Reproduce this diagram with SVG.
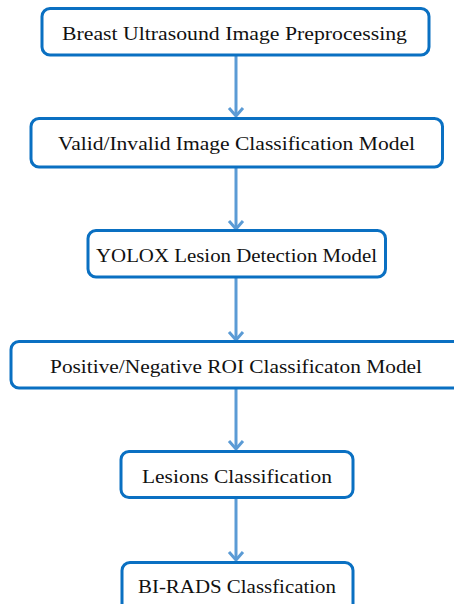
<svg xmlns="http://www.w3.org/2000/svg" width="454" height="604" viewBox="0 0 454 604">
<style>
.box{fill:#fff;stroke:#0a70c2;stroke-width:3}
.lbl{font-family:"Liberation Serif","DejaVu Serif",serif;font-size:19.5px;fill:#111;text-anchor:middle}
.con{stroke:#5b9bd5;stroke-width:3;fill:none}
</style>
<rect width="454" height="604" fill="#fff"/>
<g id="connectors">
<line class="con" x1="236" y1="56" x2="236" y2="116"/>
<path class="con" d="M229,108 L236,116 L243,108"/>
<line class="con" x1="236" y1="168" x2="236" y2="229"/>
<path class="con" d="M229,221 L236,229 L243,221"/>
<line class="con" x1="236" y1="278" x2="236" y2="340"/>
<path class="con" d="M229,332 L236,340 L243,332"/>
<line class="con" x1="236" y1="389" x2="236" y2="449"/>
<path class="con" d="M229,441 L236,449 L243,441"/>
<line class="con" x1="236" y1="498" x2="236" y2="560"/>
<path class="con" d="M229,552 L236,560 L243,552"/>
</g>
<g id="n1">
<rect class="box" x="42" y="8.5" width="387" height="46.5" rx="8"/>
<text class="lbl" x="234.5" y="40" textLength="345" lengthAdjust="spacingAndGlyphs">Breast Ultrasound Image Preprocessing</text>
</g>
<g id="n2">
<rect class="box" x="31" y="118.5" width="411.5" height="48.5" rx="8"/>
<text class="lbl" x="236.5" y="150" textLength="357" lengthAdjust="spacingAndGlyphs">Valid/Invalid Image Classification Model</text>
</g>
<g id="n3">
<rect class="box" x="88" y="230.5" width="297.5" height="46.5" rx="8"/>
<text class="lbl" x="236.5" y="262" textLength="281" lengthAdjust="spacingAndGlyphs">YOLOX Lesion Detection Model</text>
</g>
<g id="n4">
<rect class="box" x="11" y="341.5" width="460" height="46.5" rx="8"/>
<text class="lbl" x="236" y="373" textLength="372" lengthAdjust="spacingAndGlyphs">Positive/Negative ROI Classificaton Model</text>
</g>
<g id="n5">
<rect class="box" x="121" y="451.5" width="232" height="46" rx="8"/>
<text class="lbl" x="237" y="483" textLength="190" lengthAdjust="spacingAndGlyphs">Lesions Classification</text>
</g>
<g id="n6">
<rect class="box" x="122" y="562.5" width="231" height="60" rx="8"/>
<text class="lbl" x="237" y="593" textLength="198" lengthAdjust="spacingAndGlyphs">BI-RADS Classfication</text>
</g>
</svg>
